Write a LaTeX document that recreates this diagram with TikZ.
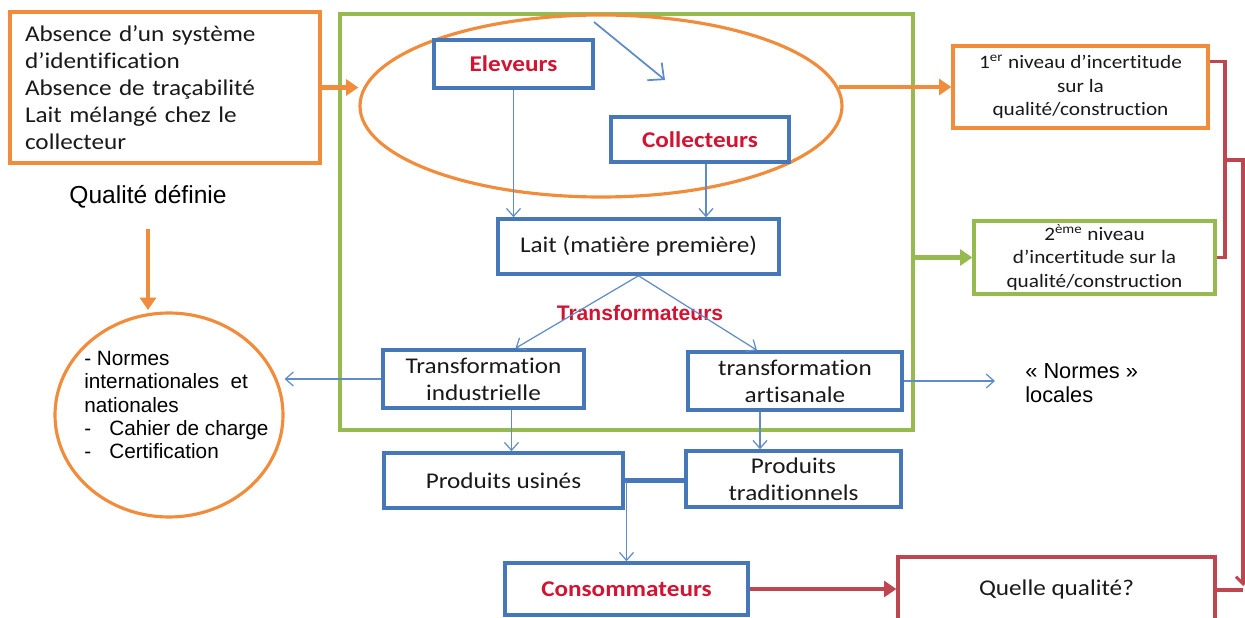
\documentclass[tikz,border=0pt]{standalone}
\usepackage{fontspec}
\setmainfont{Carlito}[FakeStretch=1.12, Ligatures=NoCommon]
\newfontfamily\arialf{Liberation Sans}
\usetikzlibrary{arrows.meta,shapes.geometric,calc}
\definecolor{oran}{RGB}{240,140,60}
\definecolor{grn}{RGB}{150,185,80}
\definecolor{blu}{RGB}{70,120,185}
\definecolor{lblu}{RGB}{95,140,200}
\definecolor{rd}{RGB}{190,70,80}
\definecolor{tred}{RGB}{210,20,50}
\definecolor{txt}{RGB}{25,25,25}
\newcommand\mainsz{\fontsize{12.8pt}{15.4pt}\selectfont}
\newcommand\smallsz{\fontsize{10.8pt}{13.4pt}\selectfont}

\begin{document}
\begin{tikzpicture}[x=0.02cm,y=-0.02cm,
  every node/.style={text=txt, font=\mainsz},
  sz/.style 2 args={minimum width=#1*0.02cm, minimum height=#2*0.02cm},
  bbox/.style={draw=blu, line width=2pt, fill=white, align=center, inner sep=0pt},
  obox/.style={draw=oran, line width=1.8pt, fill=white, align=center, inner sep=0pt},
  gbox/.style={draw=grn, line width=1.8pt, fill=white, align=center, inner sep=0pt},
  rbox/.style={draw=rd, line width=1.8pt, fill=white, align=center, inner sep=0pt},
  oell/.style={draw=oran, line width=1.8pt, ellipse, inner sep=0pt},
  redtxt/.style={text=tred, font=\mainsz\bfseries},
  thin/.style={draw=lblu, line width=0.7pt, -{Straight Barb[length=4.5pt,width=8pt]}},
  fat/.style={line width=2.3pt, -{Triangle[length=7pt,width=9pt]}},
  redline/.style={draw=rd, line width=1.8pt}]
\useasboundingbox (0,0) rectangle (1245,618);

% outer frame of the dairy chain and the producer ellipse
\node[draw=grn, line width=1.8pt, sz={573}{416}, inner sep=0pt] (fil) at (626.5,222) {};
\node[oell, sz={482}{182}] (ell) at (601,106) {};

% left-hand notes
\node[obox, sz={310}{151}, text width=5.6cm, align=left] (tl) at (165,87.5)
  {Absence d’un système\\ d’identification\\ Absence de traçabilité\\ Lait mélangé chez le\\ collecteur};
\node[font=\arialf\fontsize{14pt}{16pt}\selectfont, text=black] (qd) at (148,197) {Qualité définie};
\node[oell, sz={228}{204}] (norm) at (169,415) {};
\node[anchor=west, inner sep=0pt, align=left, text=black,
      font=\arialf\fontsize{11.8pt}{13.3pt}\selectfont] (normt) at (84,405)
  {- Normes\\ internationales\ \ et\\ nationales\\ \makebox[0.5cm][l]{-}Cahier de charge\\ \makebox[0.5cm][l]{-}Certification};

% actors and products
\node[bbox, sz={159}{48}, redtxt] (elev) at (513.5,64) {Eleveurs};
\node[bbox, sz={178}{45}, redtxt] (coll) at (700,139.5) {Collecteurs};
\node[bbox, sz={281}{55}] (lait) at (638.5,246.5) {Lait (matière première)};
\node[text=tred, font=\arialf\bfseries\fontsize{12pt}{14pt}\selectfont] (trf) at (640,313) {Transformateurs};
\node[bbox, sz={201}{58}] (ti) at (483.5,379) {Transformation\\ industrielle};
\node[bbox, sz={214}{58}] (ta) at (795,381) {transformation\\ artisanale};
\node[anchor=west, inner sep=0pt, align=left, text=black,
      font=\arialf\fontsize{12.4pt}{13.3pt}\selectfont] (loc) at (1025,383) {« Normes »\\ locales};
\node[bbox, sz={239}{55}] (pu) at (503.5,480.5) {Produits usinés};
\node[bbox, sz={215}{56}] (pt) at (793.5,479) {Produits\\ traditionnels};
\node[bbox, sz={243}{52}, redtxt] (cons) at (626.5,589) {Consommateurs};
\node[rbox, sz={317}{66}] (quel) at (1056.5,590) {Quelle qualité?};

% uncertainty levels
\node[obox, sz={255}{82}, font=\smallsz] (n1) at (1080.5,87)
  {1\textsuperscript{er} niveau d’incertitude\\ sur la\\ qualité/construction};
\node[gbox, sz={241}{73}, font=\smallsz] (n2) at (1094.5,257.5)
  {2\textsuperscript{ème} niveau\\ d’incertitude sur la\\ qualité/construction};

% thick coloured arrows
\coordinate (qdend) at (148,310);
\draw[fat, draw=oran] (tl.east) -- (tl.east -| ell.west);
\draw[fat, draw=oran] ($(ell.east |- n1.west)+(-5,0)$) -- (n1.west);
\draw[fat, draw=grn] (fil.east |- n2.west) -- (n2.west);
\draw[fat, draw=oran] ($(qd.south)+(0,14)$) -- (qdend);
\draw[fat, draw=rd] (cons.east) -- (cons.east -| quel.west);

% thin blue flows
\coordinate (fa) at (594,22);
\coordinate (fb) at (665,80);
\draw[draw=lblu, line width=1pt, -{Straight Barb[length=7pt,width=13pt]}] (fa) -- (fb);
\draw[thin] (elev.south) -- (elev.south |- lait.north);
\draw[thin] ($(coll.south)+(6,0)$) coordinate (c1) -- (c1 |- lait.north);
\draw[thin] (lait.south) -- ($(ti.north)+(32,0)$);
\draw[thin] (lait.south) -- ($(ta.north)+(-38,0)$);
\draw[thin] (ti.west) -- (norm.east |- ti.west);
\coordinate (la) at (995,381);
\draw[thin] (ta.east) -- (ta.east -| la);
\draw[thin] ($(ti.south)+(28,0)$) coordinate (d1) -- (d1 |- pu.north);
\draw[thin] ($(ta.south)+(-35,0)$) coordinate (d2) -- (d2 |- pt.north);
\draw[draw=blu, line width=2.5pt] (pu.east) -- (pu.east -| pt.west);
\draw[thin] (cons.north |- pu.east) -- (cons.north);

% red bracket gathering both uncertainty levels
\coordinate (bx) at (1225,160);
\coordinate (rx) at (1243,160);
\coordinate (rend) at (1243,586);
\draw[redline] ($(n1.north east)+(0,17)$) -| (bx) |- (n2.east);
\draw[redline, -{Straight Barb[length=4pt,width=8pt]}] (bx) -- (rx) -- (rend);
\draw[redline] (quel.east) -- (quel.east -| rend);
\end{tikzpicture}
\end{document}
